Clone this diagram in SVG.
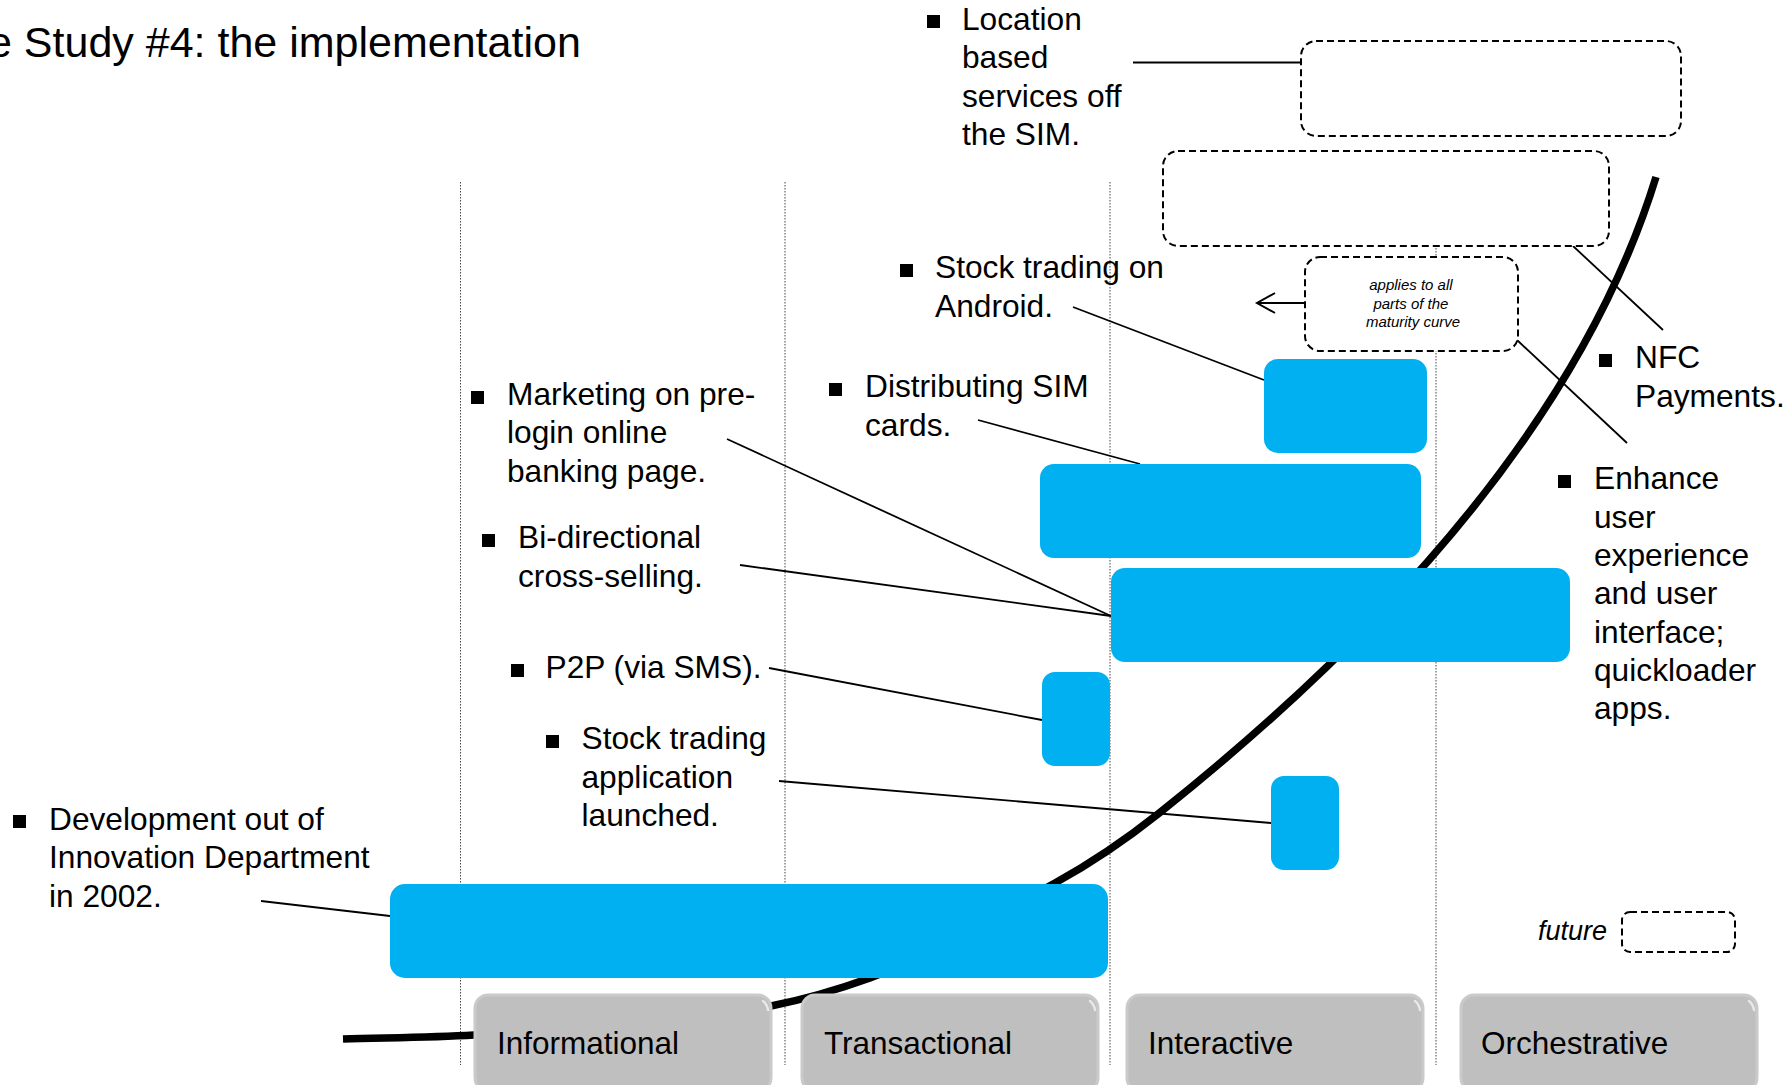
<svg xmlns="http://www.w3.org/2000/svg" width="1785" height="1085" viewBox="0 0 1785 1085">
  <defs>
    <style>
      text { font-family: "Liberation Sans", Arial, sans-serif; fill: #000; }
      .lbl { font-size: 31.7px; }
      .title { font-size: 43px; }
      .stage-txt { font-size: 31.5px; }
      .note { font-size: 15px; font-style: italic; }
      .legend { font-size: 27px; font-style: italic; }
      .blt { fill: #000; }
      .bar { fill: #00B0F0; }
      .fut { fill: #fff; stroke: #000; stroke-width: 2; stroke-dasharray: 7 4; }
      .guide { stroke: #444; stroke-width: 1; stroke-dasharray: 1.5 1.5; fill: none; }
      .conn { stroke: #000; stroke-width: 1.8; fill: none; }
      .stage { fill: #bfbfbf; stroke: #cacaca; stroke-width: 3; }
      .shine { fill: none; stroke: #f2f2f2; stroke-width: 2.5; stroke-linecap: round; opacity: 0.8; }
      .curve { fill: none; stroke: #000; stroke-width: 7.5; stroke-linecap: butt; stroke-linejoin: round; }
    </style>
    <marker id="openArrow" markerUnits="userSpaceOnUse" markerWidth="22" markerHeight="24" refX="19" refY="12" orient="auto">
      <path d="M1,2 L19,12 L1,22" fill="none" stroke="#000" stroke-width="2"/>
    </marker>
  </defs>

  <rect width="1785" height="1085" fill="#fff"/>

  <text id="title" class="title" x="-12" y="57">e Study #4: the implementation</text>

  <!-- stage separators -->
  <g id="guides">
    <line class="guide" x1="460.5" y1="182" x2="460.5" y2="1065"/>
    <line class="guide" x1="785" y1="182" x2="785" y2="1065"/>
    <line class="guide" x1="1110" y1="182" x2="1110" y2="1065"/>
    <line class="guide" x1="1436" y1="182" x2="1436" y2="1065"/>
  </g>

  <!-- maturity curve: flat start, then a parabolic sweep upwards -->
  <path id="maturity-curve" class="curve" d="M343,1039 C386.7,1037.7 430.3,1037.6 474,1035 C573,1029.1 672,1025.8 771,1006 C804,999.4 837,989.9 870,978 C931.7,955.8 993.3,916.9 1055,883 C1089.8,863.9 1124.5,840.7 1159.3,813 Q1558.4,495 1656,177"/>

  <!-- connectors from labels to items -->
  <g id="connectors">
    <line class="conn" x1="1133" y1="62.5" x2="1301" y2="62.5" style="stroke-width:2"/>
    <line class="conn" x1="1573" y1="246" x2="1663" y2="330"/>
    <line class="conn" x1="1517" y1="340" x2="1627" y2="443"/>
    <line class="conn" x1="1073" y1="307" x2="1264" y2="380"/>
    <line class="conn" x1="978" y1="420" x2="1140" y2="464"/>
    <line class="conn" x1="727" y1="439" x2="1111" y2="616"/>
    <line class="conn" x1="740" y1="565" x2="1111" y2="616"/>
    <line class="conn" x1="769" y1="668" x2="1042" y2="720"/>
    <line class="conn" x1="779" y1="781" x2="1271" y2="823"/>
    <line class="conn" x1="261" y1="901" x2="390" y2="916"/>
    <line class="conn" x1="1305" y1="303" x2="1257" y2="303" style="stroke-width:2" marker-end="url(#openArrow)"/>
  </g>

  <!-- future items (dashed) -->
  <g id="future-location"><rect class="fut" x="1301" y="41" width="380" height="95" rx="15"/></g>
  <g id="future-nfc"><rect class="fut" x="1163" y="151" width="446" height="95" rx="15"/></g>
  <g id="future-ux">
    <rect class="fut" x="1305" y="257" width="213" height="94" rx="15"/>
    <text class="note" text-anchor="middle">
      <tspan x="1413" y="290">applies to all</tspan>
      <tspan x="1413" y="308.5">parts of the</tspan>
      <tspan x="1413" y="327">maturity curve</tspan>
    </text>
  </g>

  <!-- implemented items -->
  <g id="item-android"><rect class="bar" x="1264" y="359" width="163" height="94" rx="14"/></g>
  <g id="item-sim"><rect class="bar" x="1040" y="464" width="381" height="94" rx="14"/></g>
  <g id="item-crosssell"><rect class="bar" x="1111" y="568" width="459" height="94" rx="14"/></g>
  <g id="item-p2p"><rect class="bar" x="1042" y="672" width="68" height="94" rx="13"/></g>
  <g id="item-stockapp"><rect class="bar" x="1271" y="776" width="68" height="94" rx="13"/></g>
  <g id="item-development"><rect class="bar" x="390" y="884" width="718" height="94" rx="15"/></g>

  <!-- maturity stages -->
  <g id="stage-informational">
    <rect class="stage" x="475" y="995" width="296" height="96" rx="13"/>
    <path class="shine" d="M763,1001 Q767,1004 768,1010"/>
    <text class="stage-txt" x="497" y="1054">Informational</text>
  </g>
  <g id="stage-transactional">
    <rect class="stage" x="802" y="995" width="296" height="96" rx="13"/>
    <path class="shine" d="M1090,1001 Q1094,1004 1095,1010"/>
    <text class="stage-txt" x="824" y="1054">Transactional</text>
  </g>
  <g id="stage-interactive">
    <rect class="stage" x="1127" y="995" width="296" height="96" rx="13"/>
    <path class="shine" d="M1415,1001 Q1419,1004 1420,1010"/>
    <text class="stage-txt" x="1148" y="1054">Interactive</text>
  </g>
  <g id="stage-orchestrative">
    <rect class="stage" x="1461" y="995" width="296" height="96" rx="13"/>
    <path class="shine" d="M1749,1001 Q1753,1004 1754,1010"/>
    <text class="stage-txt" x="1481" y="1054">Orchestrative</text>
  </g>

  <!-- legend -->
  <g id="legend">
    <text class="legend" x="1538" y="940">future</text>
    <rect class="fut" x="1622" y="912" width="113" height="40" rx="8"/>
  </g>

  <!-- labels -->
  <g id="label-location">
    <rect class="blt" x="927" y="15" width="13" height="13"/>
    <text class="lbl"><tspan x="962" y="30">Location</tspan><tspan x="962" dy="38.3">based</tspan><tspan x="962" dy="38.3">services off</tspan><tspan x="962" dy="38.3">the SIM.</tspan></text>
  </g>
  <g id="label-android">
    <rect class="blt" x="900" y="264" width="13" height="13"/>
    <text class="lbl"><tspan x="935" y="278.3">Stock trading on</tspan><tspan x="935" dy="38.3">Android.</tspan></text>
  </g>
  <g id="label-nfc">
    <rect class="blt" x="1599" y="354" width="13" height="13"/>
    <text class="lbl"><tspan x="1635" y="368.3">NFC</tspan><tspan x="1635" dy="38.3">Payments.</tspan></text>
  </g>
  <g id="label-ux">
    <rect class="blt" x="1558" y="475" width="13" height="13"/>
    <text class="lbl"><tspan x="1594" y="489.3">Enhance</tspan><tspan x="1594" dy="38.3">user</tspan><tspan x="1594" dy="38.3">experience</tspan><tspan x="1594" dy="38.3">and user</tspan><tspan x="1594" dy="38.3">interface;</tspan><tspan x="1594" dy="38.3">quickloader</tspan><tspan x="1594" dy="38.3">apps.</tspan></text>
  </g>
  <g id="label-sim">
    <rect class="blt" x="829" y="383" width="13" height="13"/>
    <text class="lbl"><tspan x="865" y="397.3">Distributing SIM</tspan><tspan x="865" dy="38.3">cards.</tspan></text>
  </g>
  <g id="label-marketing">
    <rect class="blt" x="471" y="391" width="13" height="13"/>
    <text class="lbl"><tspan x="507" y="405">Marketing on pre-</tspan><tspan x="507" dy="38.3">login online</tspan><tspan x="507" dy="38.3">banking page.</tspan></text>
  </g>
  <g id="label-crosssell">
    <rect class="blt" x="482" y="534" width="13" height="13"/>
    <text class="lbl"><tspan x="518" y="548.3">Bi-directional</tspan><tspan x="518" dy="38.3">cross-selling.</tspan></text>
  </g>
  <g id="label-p2p">
    <rect class="blt" x="511" y="664" width="13" height="13"/>
    <text class="lbl" x="545.5" y="678.3">P2P (via SMS).</text>
  </g>
  <g id="label-stockapp">
    <rect class="blt" x="546" y="735" width="13" height="13"/>
    <text class="lbl"><tspan x="581.5" y="749.3">Stock trading</tspan><tspan x="581.5" dy="38.3">application</tspan><tspan x="581.5" dy="38.3">launched.</tspan></text>
  </g>
  <g id="label-development">
    <rect class="blt" x="13" y="815" width="13" height="13"/>
    <text class="lbl"><tspan x="49" y="830">Development out of</tspan><tspan x="49" dy="38.3">Innovation Department</tspan><tspan x="49" dy="38.3">in 2002.</tspan></text>
  </g>
</svg>
